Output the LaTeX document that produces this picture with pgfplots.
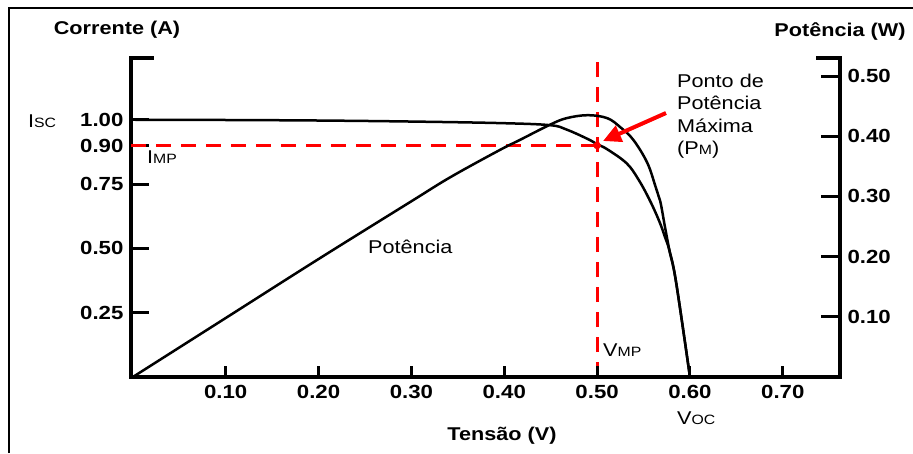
\documentclass[border=0pt]{standalone}
\usepackage{pgfplots}
\pgfplotsset{compat=1.18}
\usepackage{fontspec}
\setmainfont{Liberation Sans}[FakeStretch=1.17]
\usetikzlibrary{arrows.meta}

\newcommand{\lbl}{\fontsize{18.5}{22}\selectfont}
\newcommand{\sm}[1]{{\fontsize{13.5}{14}\selectfont #1}}

\pgfplotsset{
  base/.style={
    at={(131pt,-377pt)}, anchor=south west,
    scale only axis, width=709pt, height=319pt,
    xmin=-0.002, xmax=0.7616, enlargelimits=false,
    axis line style={line width=4pt, line cap=rect},
    tick style={line width=3pt, black},
    tick align=inside,
    ticklabel style={font=\fontsize{19}{20}\bfseries\selectfont},
    /pgf/number format/fixed,
    /pgf/number format/fixed zerofill,
    /pgf/number format/precision=2,
    /pgf/number format/assume math mode=true,
  },
  curve/.style={black, line width=2.5pt, smooth, tension=0.6, no markers},
  refline/.style={red, line width=3pt, dash pattern=on 15pt off 10pt},
}

\begin{document}
\begin{tikzpicture}
\useasboundingbox (0,0) rectangle (913pt,-453pt);

% corrente (eixo esquerdo)
\begin{axis}[base,
    ymin=0, ymax=1.24,
    hide x axis, axis y line*=left,
    ytick={0.25,0.5,0.75,0.9,1.0},
    yticklabel style={xshift=-4pt},
    major tick length=18pt]
  \addplot[refline] coordinates {(-0.002,0.9) (0.5,0.9)};
  \addplot[refline] coordinates {(0.5,0) (0.5,1.225)};
  \addplot[curve] table {
    V     I
    0     1.000
    0.1   0.999
    0.2   0.997
    0.3   0.993
    0.395 0.987
    0.449 0.979
    0.467 0.962
    0.490 0.925
    0.500 0.905
    0.511 0.885
    0.532 0.830
    0.545 0.765
    0.557 0.685
    0.567 0.605
    0.573 0.545
    0.578 0.490
    0.585 0.370
    0.600 0.000
  };
  \addplot[only marks, mark=*, red, mark size=3.5pt] coordinates {(0.5,0.9)};
\end{axis}

% potencia (eixo direito)
\begin{axis}[base,
    ymin=0, ymax=0.53,
    hide x axis, axis y line*=right,
    ytick={0.1,0.2,0.3,0.4,0.5},
    yticklabel style={xshift=4pt},
    major tick length=19pt]
  \addplot[curve] table {
    V     P
    0     0
    0.1   0.098
    0.2   0.196
    0.3   0.292
    0.342 0.332
    0.395 0.377
    0.417 0.394
    0.449 0.419
    0.467 0.430
    0.490 0.435
    0.511 0.430
    0.525 0.415
    0.539 0.394
    0.554 0.356
    0.563 0.316
    0.568 0.292
    0.573 0.250
    0.578 0.2095
    0.585 0.158
    0.600 0.000
  };
\end{axis}

% tensao (eixo x)
\begin{axis}[base,
    ymin=0, ymax=1,
    hide y axis, axis x line*=bottom,
    xtick={0.1,0.2,0.3,0.4,0.5,0.6,0.7},
    xticklabel style={yshift=-5pt},
    major tick length=11pt]
\end{axis}

% moldura e remates
\draw[line width=2pt] (9pt,-453pt) -- (9pt,-8pt) -- (913pt,-8pt);
\draw[line width=4pt, line cap=rect] (131pt,-58pt) -- (152pt,-58pt);
\draw[line width=4pt, line cap=rect] (818pt,-58pt) -- (840pt,-58pt);

\draw[red, line width=4pt, -{Triangle[length=18pt,width=17pt]}]
  (666pt,-113pt) -- (603pt,-141pt);

\node[font=\lbl\bfseries, anchor=base] at (117pt,-34pt) {Corrente (A)};
\node[font=\lbl\bfseries, anchor=base] at (840pt,-36pt) {Potência (W)};
\node[font=\lbl\bfseries, anchor=base] at (502pt,-440pt) {Tensão (V)};

\node[font=\lbl, anchor=base west, inner sep=0pt] at (28pt,-127pt) {I\sm{SC}};
\node[font=\lbl, anchor=base west, inner sep=0pt] at (147pt,-163pt) {I\sm{MP}};
\node[font=\lbl, anchor=base west, inner sep=0pt] at (368pt,-253pt) {Potência};
\node[font=\lbl, anchor=base west, inner sep=0pt] at (603pt,-356pt) {V\sm{MP}};
\node[font=\lbl, anchor=base west, inner sep=0pt] at (677pt,-424pt) {V\sm{OC}};

\node[font=\lbl, anchor=base west, inner sep=0pt] at (677pt,-87pt) {Ponto de};
\node[font=\lbl, anchor=base west, inner sep=0pt] at (677pt,-109.5pt) {Potência};
\node[font=\lbl, anchor=base west, inner sep=0pt] at (677pt,-132pt) {Máxima};
\node[font=\lbl, anchor=base west, inner sep=0pt] at (677pt,-154.5pt) {(P\sm{M})};
\end{tikzpicture}
\end{document}
